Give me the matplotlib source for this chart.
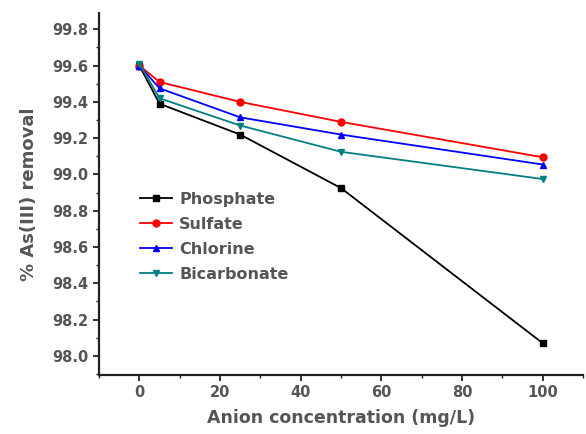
import matplotlib
matplotlib.use("Agg")
import matplotlib.pyplot as plt
from matplotlib.ticker import MultipleLocator, FormatStrFormatter

plt.rcParams["font.family"] = ["DejaVu Sans"]
plt.rcParams["font.weight"] = "bold"
plt.rcParams["axes.labelweight"] = "bold"

conc = [0, 5, 25, 50, 100]
phosphate = [99.60, 99.39, 99.22, 98.925, 98.07]
sulfate = [99.60, 99.51, 99.40, 99.29, 99.095]
chlorine = [99.60, 99.475, 99.315, 99.22, 99.055]
bicarbonate = [99.61, 99.42, 99.27, 99.125, 98.975]

series = [
    ("Phosphate", phosphate, "black", "s"),
    ("Sulfate", sulfate, "red", "o"),
    ("Chlorine", chlorine, "blue", "^"),
    ("Bicarbonate", bicarbonate, "#008080", "v"),
]

fig = plt.figure(figsize=(5.86, 4.34), dpi=100)
ax = fig.add_axes([0.169, 0.136, 0.826, 0.834])

for name, vals, color, marker in series:
    ax.plot(conc, vals, color=color, marker=marker, markersize=5, linewidth=1.3, label=name)

ax.set_xlim(-10, 110)
ax.set_ylim(97.895, 99.89)
ax.xaxis.set_major_locator(MultipleLocator(20))
ax.xaxis.set_minor_locator(MultipleLocator(10))
ax.yaxis.set_minor_locator(MultipleLocator(0.1))
ax.set_yticks([98.0, 98.2, 98.4, 98.6, 98.8, 99.0, 99.2, 99.4, 99.6, 99.8])
ax.yaxis.set_major_formatter(FormatStrFormatter("%.1f"))

for side in ("top", "right"):
    ax.spines[side].set_visible(False)
for side in ("left", "bottom"):
    ax.spines[side].set_linewidth(1.6)
    ax.spines[side].set_color("#222222")

ax.tick_params(which="major", direction="out", length=4, width=1.3, labelsize=10.5,
               labelcolor="#555555", color="#222222")
ax.tick_params(which="minor", direction="out", length=2, width=1.0, color="#222222")

ax.set_xlabel("Anion concentration (mg/L)", fontsize=12.5, color="#555555", labelpad=6)
ax.set_ylabel("% As(III) removal", fontsize=13, color="#555555", labelpad=10)

ax.legend(loc="upper left", bbox_to_anchor=(0.055, 0.545), frameon=False, fontsize=11.5,
          handlelength=2.0, handletextpad=0.45, labelspacing=0.62, labelcolor="#555555")

fig.savefig("out.png", dpi=100)
